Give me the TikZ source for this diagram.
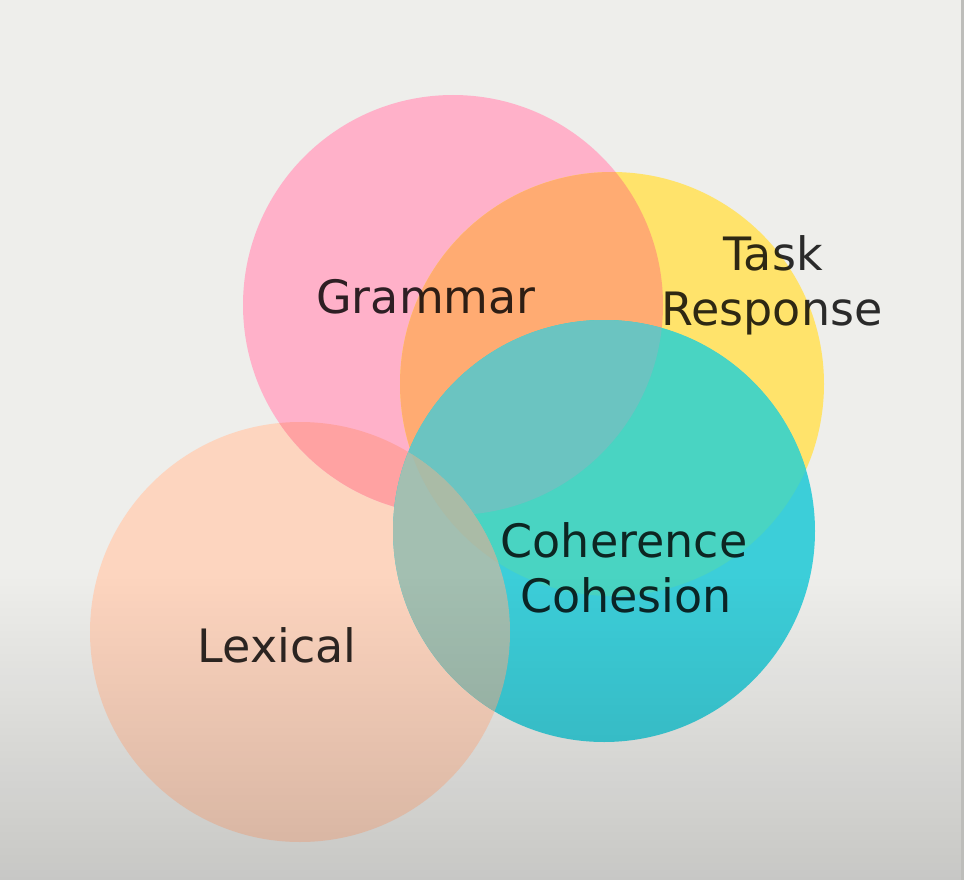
\documentclass[tikz,border=0pt]{standalone}
\usepackage{fontspec}
\setmainfont{DejaVu Sans}
\usetikzlibrary{fadings}
\definecolor{bgtop}{HTML}{EEEEEB}
\definecolor{edgegray}{HTML}{BDBDBA}
\definecolor{pinkc}{HTML}{FFB1C9}
\definecolor{yellowc}{HTML}{FFE36B}
\definecolor{orangec}{HTML}{FFAB72}
\definecolor{peachc}{HTML}{FDD5BF}
\definecolor{salmonc}{HTML}{FFA2A2}
\definecolor{cyanc}{HTML}{3CCED9}
\definecolor{cyanyel}{HTML}{49D4C2}
\definecolor{cyanpink}{HTML}{6BC4C1}
\definecolor{cyanlex}{HTML}{A3BFB1}
\definecolor{cyanlexyel}{HTML}{AABBA6}
\tikzfading[name=vfade, top color=transparent!100, bottom color=transparent!0]
\tikzset{
  lab/.style={font=\fontsize{46}{55}\selectfont, text=black, text opacity=0.82, inner sep=0pt, anchor=base},
}
\begin{document}
\begin{tikzpicture}[x=1pt,y=-1pt]
\useasboundingbox (0,0) rectangle (964,880);
\fill[bgtop] (0,0) rectangle (964,880);
\coordinate (G) at (453,305);
\coordinate (T) at (612,384);
\coordinate (C) at (604,531);
\coordinate (L) at (300,632);
% Lexical
\fill[peachc] (L) circle[radius=210pt];
% Grammar
\fill[pinkc] (G) circle[radius=210pt];
\begin{scope}
  \clip (G) circle[radius=210pt];
  \fill[salmonc] (L) circle[radius=210pt];
\end{scope}
% Task Response
\fill[yellowc] (T) circle[radius=212pt];
\begin{scope}
  \clip (G) circle[radius=210pt];
  \fill[orangec] (T) circle[radius=212pt];
\end{scope}
% Coherence Cohesion
\fill[cyanc] (C) circle[radius=211pt];
\begin{scope}
  \clip (C) circle[radius=211pt];
  \fill[cyanyel] (T) circle[radius=212pt];
  \fill[cyanpink] (G) circle[radius=210pt];
  \fill[cyanlex] (L) circle[radius=210pt];
  \clip (L) circle[radius=210pt];
  \fill[cyanlexyel] (T) circle[radius=212pt];
\end{scope}
% bottom shading of the photo
\fill[black, fill opacity=0.16, path fading=vfade] (0,575) rectangle (964,880);
\fill[edgegray] (961,0) rectangle (964,880);
% labels
\node[lab] (gram) at (426,313) {Grammar};
\node[lab] (task) at (773,270) {Task};
\node[lab] (resp) at (772,325) {Response};
\node[lab] (coh1) at (624,557) {Coherence};
\node[lab] (coh2) at (626,612) {Cohesion};
\node[lab] (lex) at (277,662) {Lexical};
\end{tikzpicture}
\end{document}
